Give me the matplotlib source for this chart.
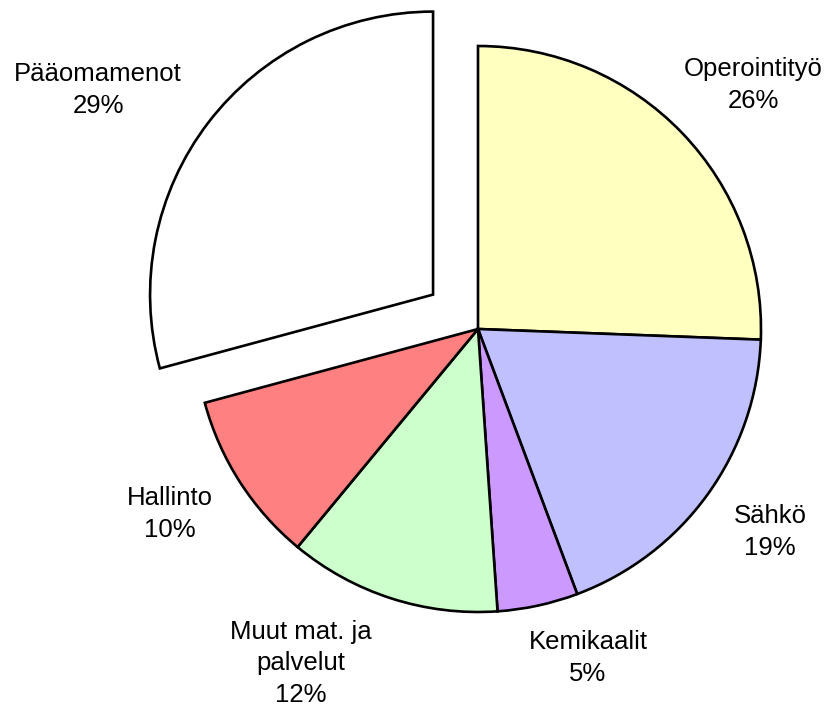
import matplotlib
matplotlib.use("Agg")
import matplotlib.pyplot as plt

categories = ["Operointityö", "Sähkö", "Kemikaalit", "Muut mat. ja\npalvelut", "Hallinto", "Pääomamenot"]
values = [25.6, 18.7, 4.6, 12.1, 9.8, 29.2]
pct_labels = ["26%", "19%", "5%", "12%", "10%", "29%"]
colors = ["#FFFFC0", "#C0C0FF", "#CC99FF", "#CCFFCC", "#FF8080", "#FFFFFF"]
explode = [0, 0, 0, 0, 0, 0.2]

W, H = 831, 709
CX, CY, R = 478, 329, 283  # pixel geometry of pie

# label anchor positions (pixels, last-line baseline)
label_px = [(753, 108), (770, 555), (588, 681), (301, 702), (170, 537), (98, 113)]

fig = plt.figure(figsize=(W / 100, H / 100), dpi=100)
ax = fig.add_axes([0, 0, 1, 1])
ax.pie(values, colors=colors, explode=explode, startangle=90, counterclock=False,
       wedgeprops=dict(edgecolor="black", linewidth=1.9), radius=1.0)
ax.set_aspect("auto")
ax.set_xlim(-CX / R, (W - CX) / R)
ax.set_ylim(-(H - CY) / R, CY / R)
ax.axis("off")

for cat, pct, (px, py) in zip(categories, pct_labels, label_px):
    ax.text((px - CX) / R, (CY - py) / R, f"{cat}\n{pct}", ha="center", va="baseline",
            multialignment="center", fontsize=18.5, family=["Liberation Sans", "DejaVu Sans"],
            linespacing=1.4, color="black")

fig.savefig("out.png", dpi=100, facecolor="white")
